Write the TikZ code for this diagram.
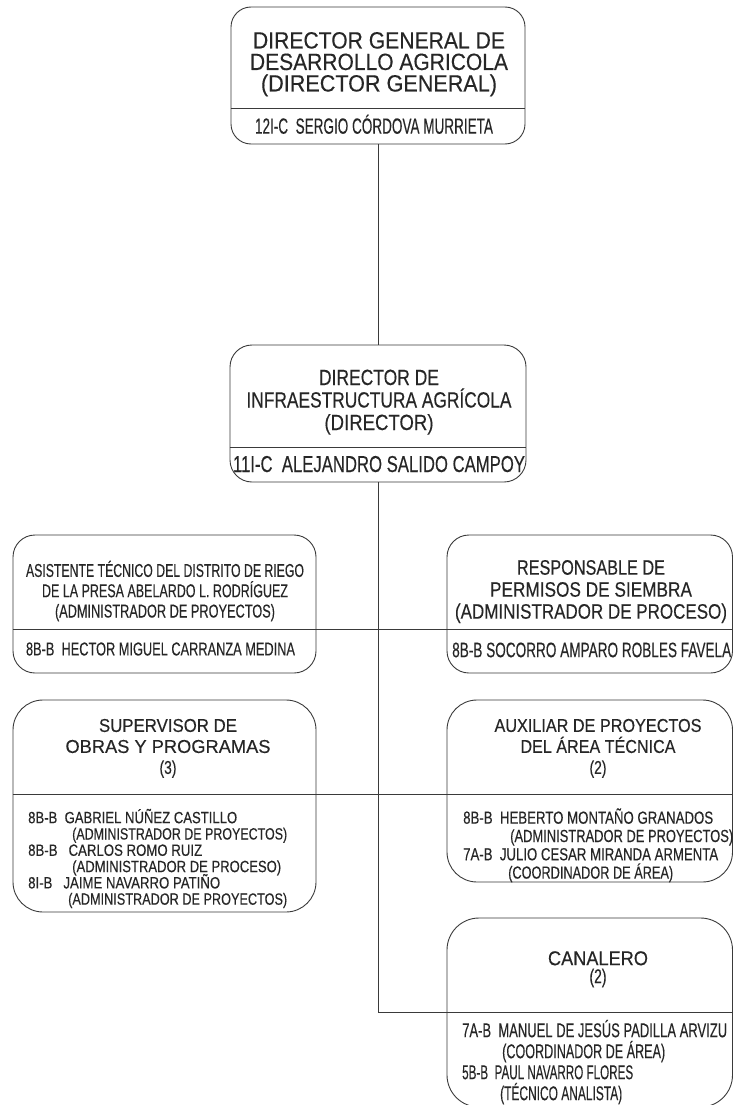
\documentclass[tikz,border=0pt]{standalone}
\usepackage{fontspec}
\setmainfont{Liberation Sans}[FakeBold=0.35]
\usepackage{graphicx}
\definecolor{ink}{HTML}{262626}
\definecolor{linec}{HTML}{3A3A3A}
\newcommand\fw[2]{\smash{\resizebox{#1pt}{\height}{#2}}}
\newcommand\fsz[2]{\fontsize{#1}{#2}\selectfont}

\begin{document}
\begin{tikzpicture}[x=1pt,y=-1pt,
  box/.style={draw=linec, line width=0.9pt, rounded corners=#1, inner sep=0pt},
  box/.default=22pt,
  ttl/.style={inner sep=0pt, align=center, text=ink, anchor=north},
  lst/.style={inner sep=0pt, align=left, text=ink, anchor=north west},
  wire/.style={draw=linec, line width=0.9pt}]

\useasboundingbox (0,0) rectangle (733,1105);
\clip (0,0) rectangle (733,1105);

% boxes
\node[box=20pt, minimum width=294pt, minimum height=137pt] (b1) at (378,75.5) {};
\node[box=22pt, minimum width=296pt, minimum height=137pt] (b2) at (378,413.5) {};
\node[box=22pt, minimum width=303pt, minimum height=138pt] (b3) at (164.5,604) {};
\node[box=22pt, minimum width=285.5pt, minimum height=138pt] (b4) at (589.75,604) {};
\node[box=30pt, minimum width=303pt, minimum height=212pt] (b5) at (164.5,806) {};
\node[box=30pt, minimum width=285.5pt, minimum height=182pt] (b6) at (589.75,791) {};
\node[box=32pt, minimum width=285.5pt, minimum height=189pt] (b7) at (589.75,1012.5) {};

% divider levels
\coordinate (d1) at (0,108);
\coordinate (d2) at (0,447);
\coordinate (j3) at (0,629);
\coordinate (j5) at (0,794);
\coordinate (j7) at (0,1012);

\draw[wire] (b1.west |- d1) -- (b1.east |- d1);
\draw[wire] (b2.west |- d2) -- (b2.east |- d2);

% connectors
\draw[wire] (b1) -- (b2);
\draw[wire] (b2.south) -- (b2.south |- j7) -- (b7.east |- j7);
\draw[wire] (b3.west |- j3) -- (b4.east |- j3);
\draw[wire] (b5.west |- j5) -- (b6.east |- j5);

% texts
\node[ttl, font=\fsz{23.5}{21.5}] (t1) at (379,48.3)
  {\fw{252}{DIRECTOR GENERAL DE}\\\fw{258}{DESARROLLO AGRICOLA}\\\fw{236}{(DIRECTOR GENERAL)}};
\node[ttl, font=\fsz{22}{22}] (n1) at (374,133)
  {\fw{238}{12I-C\ \ SERGIO CÓRDOVA MURRIETA}};

\node[ttl, font=\fsz{22}{22.5}] (t2) at (379,384.8)
  {\fw{120}{DIRECTOR DE}\\\fw{265}{INFRAESTRUCTURA AGRÍCOLA}\\\fw{109}{(DIRECTOR)}};
\node[ttl, font=\fsz{23}{23}] (n2) at (379,471.3)
  {\fw{292}{11I-C\ \ ALEJANDRO SALIDO CAMPOY}};

\node[ttl, font=\fsz{18.6}{20.3}] (t3) at (165,576.7)
  {\fw{278}{ASISTENTE TÉCNICO DEL DISTRITO DE RIEGO}\\\fw{246}{DE LA PRESA ABELARDO L. RODRÍGUEZ}\\\fw{220}{(ADMINISTRADOR DE PROYECTOS)}};
\node[ttl, font=\fsz{18.6}{20}] (n3) at (160.5,654.7)
  {\fw{269}{8B-B\ \ HECTOR MIGUEL CARRANZA MEDINA}};

\node[ttl, font=\fsz{21}{22}] (t4) at (591,574.5)
  {\fw{148}{RESPONSABLE DE}\\\fw{202}{PERMISOS DE SIEMBRA}\\\fw{272}{(ADMINISTRADOR DE PROCESO)}};
\node[lst, font=\fsz{21}{21}] (n4) at (452,656.5)
  {\fw{279}{8B-B SOCORRO AMPARO ROBLES FAVELA}};

\node[ttl, font=\fsz{18.6}{21}] (t5) at (168,731.7)
  {\fw{138}{SUPERVISOR DE}\\\fw{205}{OBRAS Y PROGRAMAS}\\\fw{17}{(3)}};
\node[lst, font=\fsz{16.3}{16.3}] (l5) at (28,823)
  {\fw{209}{8B-B\ \ GABRIEL NÚÑEZ CASTILLO}\\
   \hspace*{44pt}\fw{215}{(ADMINISTRADOR DE PROYECTOS)}\\
   \fw{174}{8B-B\ \ \ CARLOS ROMO RUIZ}\\
   \hspace*{44pt}\fw{209}{(ADMINISTRADOR DE PROCESO)}\\
   \fw{192}{8I-B\ \ \ JAIME NAVARRO PATIÑO}\\
   \hspace*{40pt}\fw{219}{(ADMINISTRADOR DE PROYECTOS)}};

\node[ttl, font=\fsz{18.6}{21}] (t6) at (598,731.7)
  {\fw{207}{AUXILIAR DE PROYECTOS}\\\fw{155}{DEL ÁREA TÉCNICA}\\\fw{17}{(2)}};
\node[lst, font=\fsz{17.5}{18.3}] (l6) at (463,823.5)
  {\fw{250}{8B-B\ \ HEBERTO MONTAÑO GRANADOS}\\
   \hspace*{47pt}\fw{223}{(ADMINISTRADOR DE PROYECTOS)}\\
   \fw{255}{7A-B\ \ JULIO CESAR MIRANDA ARMENTA}\\
   \hspace*{45pt}\fw{165}{(COORDINADOR DE ÁREA)}};

\node[ttl, font=\fsz{20}{18}] (t7) at (598,965)
  {\fw{100}{CANALERO}\\\fw{17}{(2)}};
\node[lst, font=\fsz{20}{21}] (l7) at (462,1037)
  {\fw{265}{7A-B\ \ MANUEL DE JESÚS PADILLA ARVIZU}\\
   \hspace*{40pt}\fw{163}{(COORDINADOR DE ÁREA)}\\
   \fw{171}{5B-B\ \ PAUL NAVARRO FLORES}\\
   \hspace*{38pt}\fw{122}{(TÉCNICO ANALISTA)}};

\end{tikzpicture}
\end{document}
